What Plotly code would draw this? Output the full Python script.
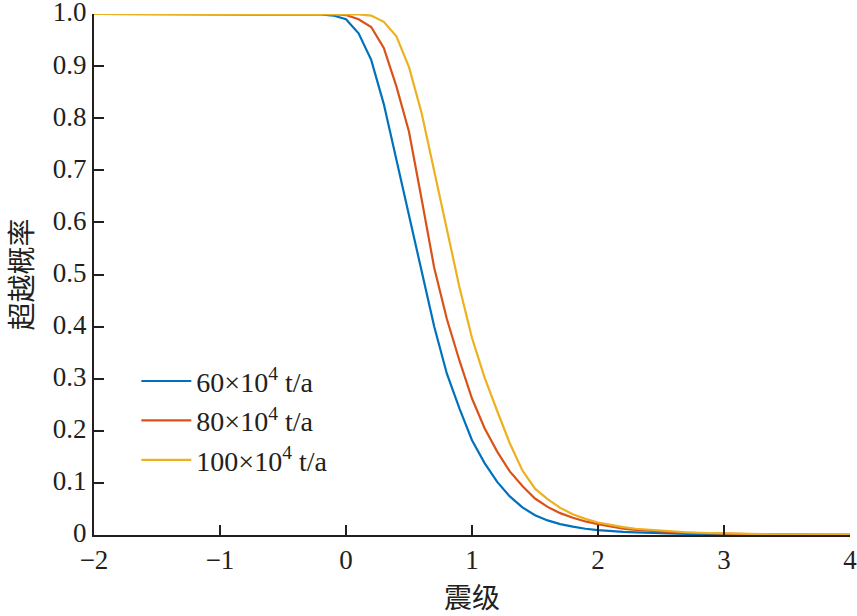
import numpy as np
import plotly.graph_objects as go

x_vals = [round(-2.0 + 0.1 * i, 1) for i in range(61)]

blue_60 = [1.0] * 17 + [
    0.9995, 0.999, 0.997, 0.99, 0.963, 0.912, 0.827, 0.72, 0.614, 0.508,
    0.40, 0.31, 0.243, 0.182, 0.138, 0.102, 0.074, 0.053, 0.038, 0.028,
    0.021, 0.016, 0.012, 0.0095, 0.0075, 0.006, 0.005, 0.004, 0.0033, 0.0027,
    0.0022, 0.0018, 0.0015, 0.0012, 0.001, 0.0008, 0.0007, 0.0006, 0.0005, 0.0004,
    0.0003, 0.0003, 0.0002, 0.0002]

red_80 = [1.0] * 18 + [
    0.9998, 0.9995, 0.998, 0.99, 0.975, 0.935, 0.861, 0.774, 0.645, 0.513,
    0.415, 0.335, 0.262, 0.205, 0.16, 0.122, 0.094, 0.07, 0.054, 0.042,
    0.033, 0.026, 0.021, 0.016, 0.012, 0.010, 0.008, 0.0065, 0.0053, 0.0043,
    0.0035, 0.0028, 0.0023, 0.0019, 0.0016, 0.0013, 0.0011, 0.0009, 0.0008, 0.0007,
    0.0006, 0.0005, 0.0004]

yellow_100 = [1.0] * 20 + [
    0.9998, 0.9993, 0.997, 0.985, 0.957, 0.898, 0.81, 0.699, 0.582, 0.476,
    0.378, 0.302, 0.238, 0.176, 0.124, 0.089, 0.069, 0.052, 0.04, 0.031,
    0.024, 0.019, 0.015, 0.012, 0.01, 0.008, 0.0065, 0.0053, 0.0043, 0.0035,
    0.0029, 0.0024, 0.002, 0.0017, 0.0014, 0.0012, 0.001, 0.0009, 0.0008, 0.0007,
    0.0006]

series_names = ["60×10<sup>4</sup> t/a", "80×10<sup>4</sup> t/a", "100×10<sup>4</sup> t/a"]
series_vals = [blue_60, red_80, yellow_100]
series_colors = ["#0072BD", "#D95319", "#EDB120"]

x_ticks = [-2, -1, 0, 1, 2, 3, 4]
x_ticktext = ["−2", "−1", "0", "1", "2", "3", "4"]
y_ticks = [0, 0.1, 0.2, 0.3, 0.4, 0.5, 0.6, 0.7, 0.8, 0.9, 1.0]
y_ticktext = ["0", "0.1", "0.2", "0.3", "0.4", "0.5", "0.6", "0.7", "0.8", "0.9", "1.0"]

serif = "Liberation Serif"
cjk = "Noto Sans CJK SC"
ink = "#231f20"

fig = go.Figure()
for i, (name, vals, col) in enumerate(zip(series_names, series_vals, series_colors)):
    fig.add_trace(go.Scatter(
        x=x_vals, y=vals, mode="lines", name=name,
        line=dict(color=col, width=2.2), legendgroup=f"g{i}"))

fig.update_layout(
    width=857, height=616,
    margin=dict(l=94, r=7, t=14, b=81, autoexpand=False),
    paper_bgcolor="white", plot_bgcolor="white",
    font=dict(family=serif, size=26, color=ink),
    showlegend=True,
    legend=dict(x=0.056, y=0.343, xanchor="left", yanchor="top",
                bgcolor="rgba(0,0,0,0)", font=dict(family=serif, size=28, color=ink),
                tracegroupgap=0, itemwidth=50),
    xaxis=dict(range=[-2, 4], tickvals=x_ticks, ticktext=x_ticktext, automargin=False,
               ticklabeloverflow="allow",
               showgrid=False, zeroline=False, showline=True, linecolor=ink, linewidth=2,
               ticks="inside", ticklen=10, tickwidth=2, tickcolor=ink,
               tickfont=dict(family=serif, size=27, color=ink),
               title=dict(text="震级", font=dict(family=cjk, size=28, color=ink), standoff=17)),
    yaxis=dict(range=[0, 1.0], tickvals=y_ticks, ticktext=y_ticktext, automargin=False,
               ticklabeloverflow="allow", ticklabelshift=-2,
               showgrid=False, zeroline=False, showline=True, linecolor=ink, linewidth=2,
               ticks="inside", ticklen=10, tickwidth=2, tickcolor=ink,
               tickfont=dict(family=serif, size=27, color=ink),
               title=dict(text="超越概率", font=dict(family=cjk, size=28, color=ink), standoff=29)),
)

fig.write_html("out.html", config={"displayModeBar": False},
               post_script="document.body.style.margin='0';")
